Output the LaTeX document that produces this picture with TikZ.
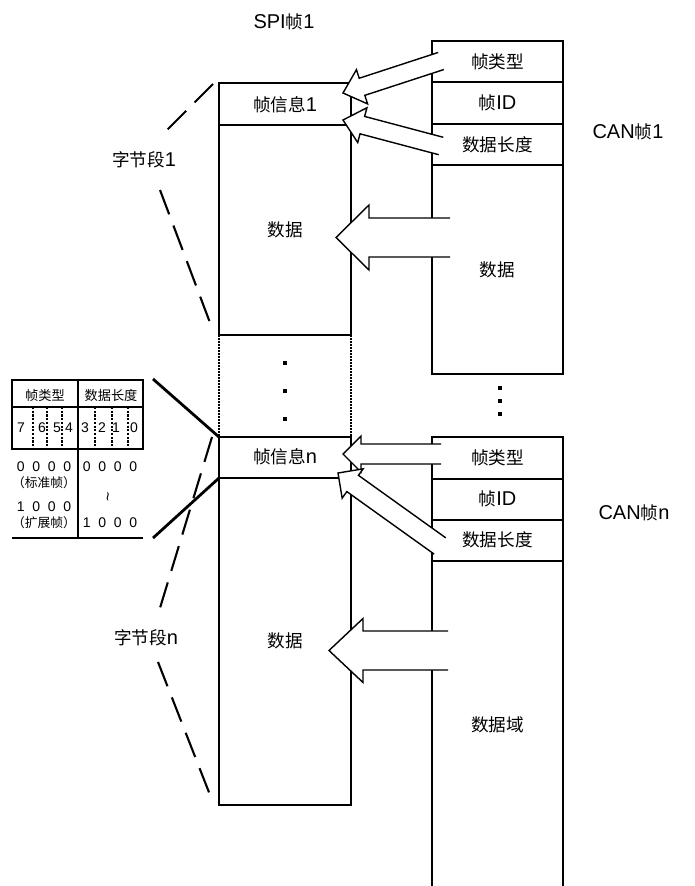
\documentclass[tikz,border=0pt]{standalone}
\usepackage{fontspec}
\setmainfont{Liberation Sans}
\newfontfamily\cjk[Scale=0.88]{Noto Sans CJK SC}
\newcommand{\zh}[1]{{\cjk #1}}
\usetikzlibrary{calc}

\newcommand{\blockarrow}[5]{%
    \coordinate (ba-h) at ($(#2)!#5!(#1)$);
    \coordinate (ba-t1) at ($(#1)!#3!90:(#2)$);
    \coordinate (ba-t2) at ($(#1)!#3!-90:(#2)$);
    \coordinate (ba-s1) at ($(ba-h)!#3!90:(#2)$);
    \coordinate (ba-s2) at ($(ba-h)!#3!-90:(#2)$);
    \coordinate (ba-b1) at ($(ba-h)!#4!90:(#2)$);
    \coordinate (ba-b2) at ($(ba-h)!#4!-90:(#2)$);
    \fill[white] (ba-t1) -- (ba-s1) -- (ba-b1) -- (#2) -- (ba-b2) -- (ba-s2) -- (ba-t2) -- cycle;
    \draw[pfeil] (ba-t1) -- (ba-s1) -- (ba-b1) -- (#2) -- (ba-b2) -- (ba-s2) -- (ba-t2);
}

\begin{document}
\begin{tikzpicture}[x=1pt, y=-1pt,
    box/.style={line width=2.8pt},
    seg/.style={line width=2.1pt, dash pattern=on 26pt off 12pt},
    dotbox/.style={line width=2.2pt, dash pattern=on 1.6pt off 1.4pt},
    pfeil/.style={line width=1.4pt, line join=miter},
    tab/.style={line width=2.8pt},
    tabdot/.style={line width=2.5pt, dash pattern=on 2.2pt off 1.5pt},
    lbl/.style={inner sep=0pt, font=\fontsize{20}{23}\selectfont},
    tabtxt/.style={inner sep=0pt, font=\fontsize{15}{17}\selectfont},
    tabnum/.style={inner sep=0pt, font=\fontsize{14}{16}\selectfont},
    tabsml/.style={inner sep=0pt, font=\fontsize{14.5}{16}\selectfont}]

    \useasboundingbox (0,0) rectangle (694,886);

    \coordinate (A1) at (219,83);
    \coordinate (B1) at (351,83);
    \coordinate (C1) at (351,335);
    \coordinate (D1) at (219,335);
    \coordinate (An) at (219,437);
    \coordinate (Bn) at (351,437);
    \coordinate (Cn) at (351,805);
    \coordinate (Dn) at (219,805);

    \coordinate (E1) at (432,41);
    \coordinate (F1) at (563,41);
    \coordinate (G1) at (563,374);
    \coordinate (H1) at (432,374);
    \coordinate (En) at (432,437);
    \coordinate (Fn) at (563,437);
    \coordinate (Gn) at (563,886);
    \coordinate (Hn) at (432,886);

    \draw[box] (A1) -- (B1) -- (C1) -- (D1) -- cycle;
    \draw[box] ($(A1)+(0,42)$) -- ($(B1)+(0,42)$);
    \draw[dotbox] (D1) -- (An);
    \draw[dotbox] (C1) -- (Bn);
    \draw[box] (An) -- (Bn) -- (Cn) -- (Dn) -- cycle;
    \draw[box] ($(An)+(0,41)$) -- ($(Bn)+(0,41)$);

    \draw[box] (E1) -- (F1) -- (G1) -- (H1) -- cycle;
    \foreach \y in {41,83,124}
        \draw[box] ($(E1)+(0,\y)$) -- ($(F1)+(0,\y)$);
    \draw[box] (Hn) -- (En) -- (Fn) -- (Gn);
    \foreach \y in {42,83,124}
        \draw[box] ($(En)+(0,\y)$) -- ($(Fn)+(0,\y)$);

    \foreach \y in {363,391,419}
        \fill (283,\y-2) rectangle (287,\y+2);
    \foreach \y in {388,401,414}
        \fill (498,\y-1.8) rectangle (501.6,\y+1.8);

    \node[lbl] (spi1) at (284,22) {SPI\zh{帧}1};
    \node[lbl] (can1) at (628,132) {CAN\zh{帧}1};
    \node[lbl] (cann) at (634,513) {CAN\zh{帧}n};
    \node[lbl] (seg1) at (144,160) {\zh{字节段}1};
    \node[lbl] (segn) at (146,638) {\zh{字节段}n};

    \node[lbl] (info1) at (285,105) {\zh{帧信息}1};
    \node[lbl] (data1) at (285,230) {\zh{数据}};
    \node[lbl] (infon) at (285,457) {\zh{帧信息}n};
    \node[lbl] (datan) at (285,641) {\zh{数据}};

    \node[lbl] (typ1) at (497.5,62) {\zh{帧类型}};
    \node[lbl] (id1) at (497.5,103) {\zh{帧}ID};
    \node[lbl] (len1) at (497.5,145) {\zh{数据长度}};
    \node[lbl] (pay1) at (497.5,270) {\zh{数据}};
    \node[lbl] (typn) at (497.5,458) {\zh{帧类型}};
    \node[lbl] (idn) at (497.5,499) {\zh{帧}ID};
    \node[lbl] (lenn) at (497.5,540) {\zh{数据长度}};
    \node[lbl] (payn) at (497.5,725) {\zh{数据域}};

    \coordinate (t1) at (441,61);
    \coordinate (p1) at (343,93);
    \coordinate (t2) at (441,146);
    \coordinate (p2) at (343,120);
    \coordinate (t3) at (450,237.5);
    \coordinate (p3) at (336,237.5);
    \coordinate (t4) at (441,454);
    \coordinate (p4) at (343,454);
    \coordinate (t5) at (440,546);
    \coordinate (p5) at (338,473);
    \coordinate (t6) at (448,650.5);
    \coordinate (p6) at (329,650.5);

    \blockarrow{t1}{p1}{9pt}{18pt}{20pt}
    \blockarrow{t2}{p2}{9pt}{18pt}{20pt}
    \blockarrow{t3}{p3}{19.5pt}{32.5pt}{33pt}
    \blockarrow{t4}{p4}{10pt}{18pt}{18pt}
    \blockarrow{t5}{p5}{10pt}{18pt}{18pt}
    \blockarrow{t6}{p6}{19.5pt}{32pt}{34pt}

    \draw[seg] (213,84) -- (165,132);
    \draw[seg] (160,190) -- (212,328);
    \draw[seg] (212,437) -- (160,608);
    \draw[seg] (158,662) -- (212,800);

    \coordinate (L1) at (153,379);
    \coordinate (L2) at (153,538);
    \draw[tab] (L1) -- (An);
    \draw[tab] (L2) -- ($(An)+(0,41)$);

    \draw[tab] (12,380) rectangle (143,449);
    \draw[tab] (12,407) -- (143,407);
    \draw[tab] (78,380) -- (78,449);
    \draw[line width=2pt] (78,449) -- (78,538);
    \draw[tab] (12,538) -- (143,538);
    \foreach \x in {33,47,62,95,112,128}
        \draw[tabdot] (\x,407) -- (\x,449);

    \node[tabtxt] (hdtyp) at (45,395) {\zh{帧类型}};
    \node[tabtxt] (hdlen) at (111,395) {\zh{数据长度}};
    \foreach \d/\x in {7/21,6/42,5/57,4/69,3/85,2/102,1/116,0/134}
        \node[tabnum] (bit\d) at (\x,428) {\d};

    \node[tabnum] (std) at (44,467) {0~~0~~0~~0};
    \node[tabsml] (stdn) at (44,483) {\zh{（标准帧）}};
    \node[tabnum] (ext) at (44,507) {1~~0~~0~~0};
    \node[tabsml] (extn) at (44,523) {\zh{（扩展帧）}};
    \node[tabnum] (lenlo) at (110,467) {0~~0~~0~~0};
    \node[inner sep=0pt, rotate=90, font=\fontsize{16}{17}\selectfont] (till) at (110,497) {\textasciitilde};
    \node[tabnum] (lenhi) at (110,523) {1~~0~~0~~0};
\end{tikzpicture}
\end{document}
